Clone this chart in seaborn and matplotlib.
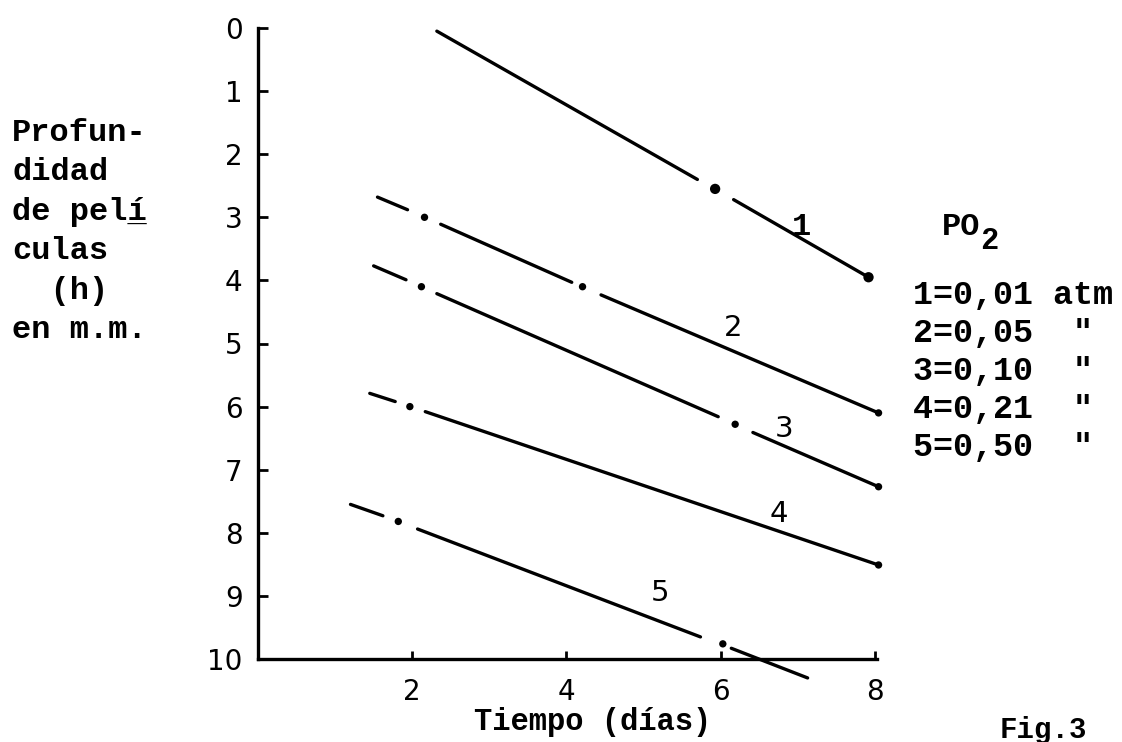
import matplotlib
matplotlib.use("Agg")
import matplotlib.pyplot as plt
import seaborn as sns
import pandas as pd

# curve names and the PO2 values of the legend
curve_names = ['1', '2', '3', '4', '5']
legend_rows = ['1=0,01 atm', '2=0,05  "', '3=0,10  "', '4=0,21  "', '5=0,50  "']

# solid pieces of every curve (x in days, y = depth in mm)
c1_seg_x = [(2.32, 5.70), (6.17, 7.92)]
c1_seg_y = [(0.05, 2.40), (2.72, 3.95)]
c2_seg_x = [(1.55, 1.94), (2.37, 4.07), (4.45, 8.05)]
c2_seg_y = [(2.68, 2.88), (3.11, 4.03), (4.23, 6.10)]
c3_seg_x = [(1.50, 1.92), (2.32, 5.97), (6.42, 8.05)]
c3_seg_y = [(3.77, 3.99), (4.21, 6.16), (6.41, 7.27)]
c4_seg_x = [(1.45, 1.78), (2.17, 8.05)]
c4_seg_y = [(5.79, 5.92), (6.08, 8.51)]
c5_seg_x = [(1.20, 1.62), (2.07, 5.74), (6.14, 7.13)]
c5_seg_y = [(7.55, 7.73), (7.94, 9.65), (9.83, 10.30)]

# the dots in the gaps and at the ends
c1_dot_x = [5.93, 7.92]
c1_dot_y = [2.55, 3.95]
c2_dot_x = [2.16, 4.21, 8.05]
c2_dot_y = [3.00, 4.10, 6.10]
c3_dot_x = [2.12, 6.19, 8.05]
c3_dot_y = [4.10, 6.28, 7.27]
c4_dot_x = [1.97, 8.05]
c4_dot_y = [6.00, 8.51]
c5_dot_x = [1.82, 6.03]
c5_dot_y = [7.82, 9.76]

# where the curve numbers are written
label_x = [7.05, 6.17, 6.82, 6.75, 5.22]
label_y = [3.15, 4.75, 6.35, 7.70, 8.95]

x_ticks = [2, 4, 6, 8]
y_ticks = list(range(0, 11))

segs_x = [c1_seg_x, c2_seg_x, c3_seg_x, c4_seg_x, c5_seg_x]
segs_y = [c1_seg_y, c2_seg_y, c3_seg_y, c4_seg_y, c5_seg_y]
dots_x = [c1_dot_x, c2_dot_x, c3_dot_x, c4_dot_x, c5_dot_x]
dots_y = [c1_dot_y, c2_dot_y, c3_dot_y, c4_dot_y, c5_dot_y]

rows = []
for name, sx, sy in zip(curve_names, segs_x, segs_y):
    for k, (xx, yy) in enumerate(zip(sx, sy)):
        for a, b in zip(xx, yy):
            rows.append({'x': a, 'y': b, 'seg': f'{name}-{k}'})
df_lines = pd.DataFrame(rows)

dot_rows = []
for name, dx, dy in zip(curve_names, dots_x, dots_y):
    for a, b in zip(dx, dy):
        dot_rows.append({'x': a, 'y': b, 'curve': name})
df_dots = pd.DataFrame(dot_rows)

sns.set_style('ticks')
plt.rcParams['font.family'] = ['DejaVu Sans']
plt.rcParams['text.color'] = 'black'
plt.rcParams['axes.edgecolor'] = 'black'
plt.rcParams['xtick.color'] = 'black'
plt.rcParams['ytick.color'] = 'black'

W, H = 1122, 742
fig = plt.figure(figsize=(W / 100, H / 100), dpi=100)
ax = fig.add_axes([258 / W, 1 - 659 / H, (877 - 258) / W, (659 - 28) / H])

sns.lineplot(data=df_lines, x='x', y='y', units='seg', estimator=None, sort=False,
             color='black', linewidth=2.4, ax=ax, clip_on=False, legend=False)

big = df_dots['curve'] == '1'
sns.scatterplot(data=df_dots[big], x='x', y='y', color='black', s=55,
                edgecolor='none', ax=ax, clip_on=False, legend=False)
sns.scatterplot(data=df_dots[~big], x='x', y='y', color='black', s=28,
                edgecolor='none', ax=ax, clip_on=False, legend=False)

for name, lx, ly in zip(curve_names, label_x, label_y):
    if name == '1':
        ax.text(lx, ly, name, family='Liberation Mono', fontsize=23,
                weight='bold', ha='center', va='center')
    else:
        ax.text(lx, ly, name, family='DejaVu Sans', fontsize=21,
                ha='center', va='center')

ax.set_xlim(0, 8.03)
ax.set_ylim(10, 0)
ax.set_xticks(x_ticks)
ax.set_yticks(y_ticks)
ax.set_xlabel('')
ax.set_ylabel('')
sns.despine(ax=ax)
for sp in ['left', 'bottom']:
    ax.spines[sp].set_linewidth(2.4)
    ax.spines[sp].set_color('black')
ax.tick_params(axis='y', direction='in', length=7, width=2, pad=11,
               labelsize=20, colors='black')
ax.tick_params(axis='x', direction='in', length=6, width=2, pad=14,
               labelsize=20, colors='black')


def ftext(px, py, s, **kw):
    fig.text(px / W, 1 - py / H, s, **kw)


mono = dict(family='Liberation Mono', fontsize=23, weight='bold',
            va='center', ha='left')
ylab = ['Profun-', 'didad', 'de pelí', 'culas', '  (h)', 'en m.m.']
for i, s in enumerate(ylab):
    ftext(12, 133 + i * 39.4, s, **mono)
ftext(12, 213, '      _', **mono)

ftext(593, 722, 'Tiempo (días)', family='Liberation Mono', fontsize=22,
      weight='bold', ha='center', va='center')

ftext(942, 227, 'PO', family='Liberation Mono', fontsize=23, weight='bold',
      va='center')
ftext(980, 241, '2', family='Liberation Mono', fontsize=22, weight='bold',
      va='center')
for i, s in enumerate(legend_rows):
    ftext(913, 295 + i * 38, s, family='Liberation Mono', fontsize=24,
          weight='bold', va='center')

ftext(1000, 716, 'Fig.3', family='Liberation Mono', fontsize=21,
      weight='bold', va='top')

fig.savefig('out.png', dpi=100)
